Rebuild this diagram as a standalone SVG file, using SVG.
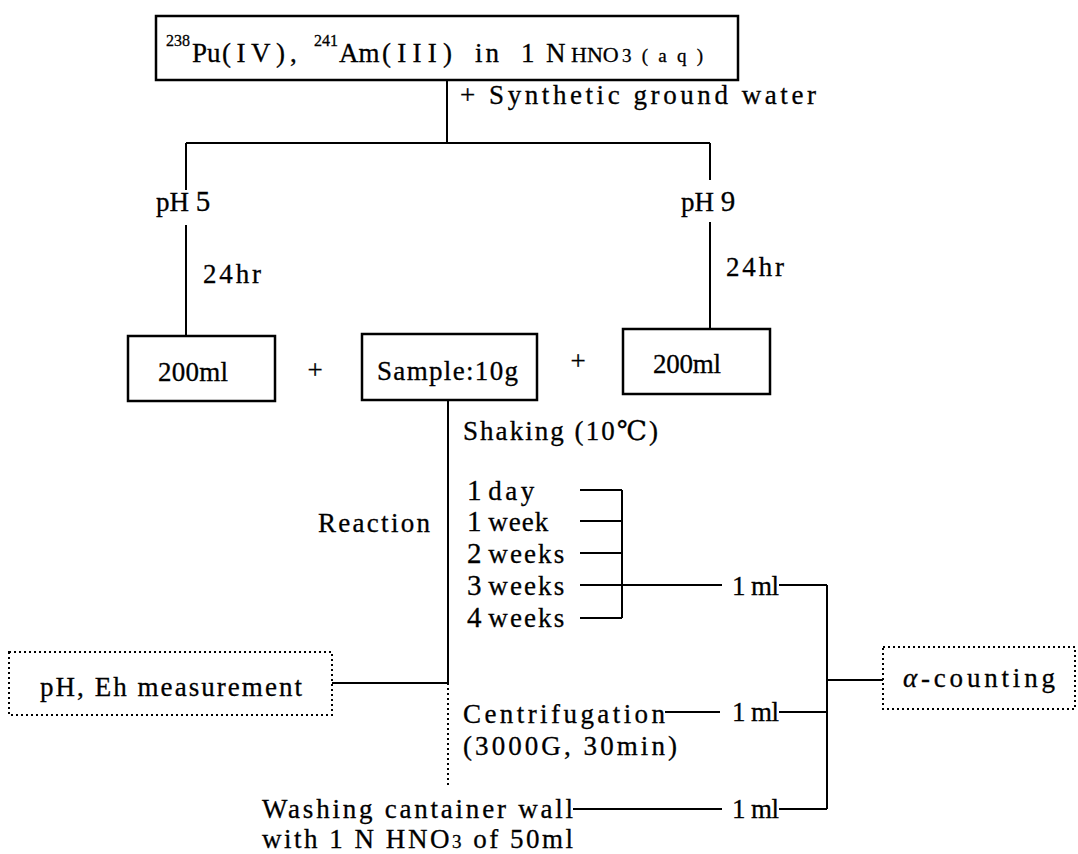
<svg xmlns="http://www.w3.org/2000/svg" width="1078" height="854" viewBox="0 0 1078 854">
<style>
.t{font-family:"Liberation Serif","DejaVu Serif",serif;font-size:27px;fill:#000;stroke:#000;stroke-width:0.3}
.s{font-size:16px}
.m{font-size:19px}
.h{font-size:22px}
.d{font-size:29px}
.box{fill:#fff;stroke:#000;stroke-width:2.5}
.dbox{fill:#fff;stroke:#000;stroke-width:2;stroke-dasharray:2 3}
.ln{fill:none;stroke:#000;stroke-width:2}
.dl{stroke-dasharray:2 3}
</style>
<rect width="1078" height="854" fill="#fff"/>
<g id="connectors">
<path class="ln" d="M447 80V143M186 143H710M186 143V190M186 225V336M710 143V180M710 222V329"/>
<path class="ln" d="M448 400V683M332 683H448"/>
<path class="ln dl" d="M448 683V787"/>
<path class="ln" d="M580 490H622M580 521H622M580 553H622M580 585H722M580 618H622M622 490V618"/>
<path class="ln" d="M779 585H827M665 712H720M779 712H827M573 809H722M779 809H827M827 585V809M827 680H883"/>
</g>
<g id="source">
<rect class="box" x="156" y="16" width="582" height="64"/>
<text class="t" y="62"><tspan class="s" x="166" y="46" textLength="24" lengthAdjust="spacing">238</tspan><tspan x="192" y="62">Pu</tspan><tspan x="222" textLength="63" lengthAdjust="spacing">(IV)</tspan><tspan x="290">,</tspan><tspan class="s" x="314" y="46" textLength="24" lengthAdjust="spacing">241</tspan><tspan x="339" y="62">Am</tspan><tspan x="382" textLength="70" lengthAdjust="spacing">(III)</tspan><tspan x="475" textLength="24" lengthAdjust="spacing">in</tspan><tspan x="521">1</tspan><tspan x="546">N</tspan><tspan class="h" x="571" y="62">HNO</tspan><tspan class="m" x="622" textLength="81" lengthAdjust="spacing">3(aq)</tspan></text>
</g>
<g id="synthetic-label"><text class="t" x="460" y="104" textLength="356" lengthAdjust="spacing">+ Synthetic ground water</text></g>
<g id="ph5-label"><text class="t" x="156" y="211">pH <tspan class="d">5</tspan></text></g>
<g id="ph9-label"><text class="t" x="681" y="211">pH <tspan class="d">9</tspan></text></g>
<g id="time-left"><text class="t" x="203" y="283" textLength="58" lengthAdjust="spacing">24hr</text></g>
<g id="time-right"><text class="t" x="726" y="276" textLength="58" lengthAdjust="spacing">24hr</text></g>
<g id="vol-left">
<rect class="box" x="128" y="336" width="147" height="65"/>
<text class="t" x="158" y="381" textLength="70" lengthAdjust="spacing">200ml</text>
</g>
<g id="plus-1"><text class="t" x="315" y="379" text-anchor="middle">+</text></g>
<g id="sample">
<rect class="box" x="362" y="334" width="175" height="66"/>
<text class="t" x="377" y="380" textLength="141" lengthAdjust="spacing">Sample:10g</text>
</g>
<g id="plus-2"><text class="t" x="578" y="370" text-anchor="middle">+</text></g>
<g id="vol-right">
<rect class="box" x="623" y="329" width="147" height="65"/>
<text class="t" x="653" y="373" textLength="68" lengthAdjust="spacing">200ml</text>
</g>
<g id="shaking"><text class="t" x="463" y="440" textLength="195" lengthAdjust="spacing">Shaking (10℃)</text></g>
<g id="reaction"><text class="t" x="318" y="532" textLength="112" lengthAdjust="spacing">Reaction</text></g>
<g id="times">
<text class="t" x="467" y="500"><tspan class="d">1</tspan> <tspan textLength="46" lengthAdjust="spacing">day</tspan></text>
<text class="t" x="467" y="531"><tspan class="d">1</tspan> <tspan textLength="60" lengthAdjust="spacing">week</tspan></text>
<text class="t" x="467" y="563"><tspan class="d">2</tspan> <tspan textLength="76" lengthAdjust="spacing">weeks</tspan></text>
<text class="t" x="467" y="595"><tspan class="d">3</tspan> <tspan textLength="76" lengthAdjust="spacing">weeks</tspan></text>
<text class="t" x="467" y="627"><tspan class="d">4</tspan> <tspan textLength="76" lengthAdjust="spacing">weeks</tspan></text>
</g>
<g id="ph-eh">
<rect class="dbox" x="9" y="652" width="323" height="63"/>
<text class="t" x="40" y="696" textLength="262" lengthAdjust="spacing">pH, Eh measurement</text>
</g>
<g id="alpha">
<rect class="dbox" x="883" y="647" width="192" height="62"/>
<text class="t" x="903" y="687" textLength="152" lengthAdjust="spacing"><tspan font-style="italic">α</tspan>-counting</text>
</g>
<g id="centrifugation">
<text class="t" x="463" y="723" textLength="202" lengthAdjust="spacing">Centrifugation</text>
<text class="t" x="463" y="755" textLength="214" lengthAdjust="spacing">(3000G, 30min)</text>
</g>
<g id="washing">
<text class="t" x="262" y="818" textLength="311" lengthAdjust="spacing">Washing cantainer wall</text>
<text class="t" x="262" y="848" textLength="311" lengthAdjust="spacing">with 1 N HNO<tspan class="m">3</tspan> of 50ml</text>
</g>
<g id="ml-1"><text class="t" x="732" y="595" textLength="47" lengthAdjust="spacing">1 ml</text></g>
<g id="ml-2"><text class="t" x="732" y="721" textLength="47" lengthAdjust="spacing">1 ml</text></g>
<g id="ml-3"><text class="t" x="732" y="818" textLength="47" lengthAdjust="spacing">1 ml</text></g>
</svg>
